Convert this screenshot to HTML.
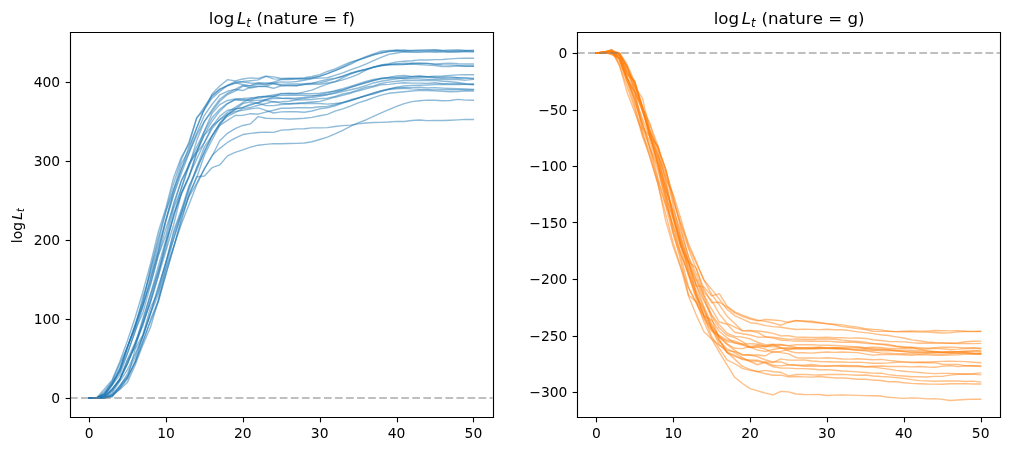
<!DOCTYPE html>
<html><head><meta charset="utf-8"><style>html,body{margin:0;padding:0;background:#fff;overflow:hidden}svg{display:block}</style></head>
<body><svg width="1009" height="451" viewBox="0 0 726.48 324.72" version="1.1">
<defs>
<style type="text/css">*{stroke-linejoin: round; stroke-linecap: butt}</style>
</defs>
<g id="figure_1">
<g id="patch_1">
<path d="M 0 324.72
L 726.48 324.72
L 726.48 0
L 0 0
z
" style="fill: #ffffff"/>
</g>
<g id="axes_1">
<g id="patch_2">
<path d="M 50.3136 300.24
L 354.677236 300.24
L 354.677236 23.04
L 50.3136 23.04
z
" style="fill: #ffffff"/>
</g>
<g id="matplotlib.axis_1">
<g id="xtick_1">
<g id="line2d_1">
<g>
<path d="M 0 0
L 0 3.5
" transform="translate(64.4400 300.6000)" style="stroke: #000000; stroke-width: 0.8"/>
</g>
</g>
<g id="text_1">
<text style="font-size: 10px; font-family: 'DejaVu Sans', sans-serif; text-anchor: middle" x="64.148311" y="315.5584" transform="rotate(-0 64.148311 315.5584)">0</text>
</g>
</g>
<g id="xtick_2">
<g id="line2d_2">
<g>
<path d="M 0 0
L 0 3.5
" transform="translate(119.8800 300.6000)" style="stroke: #000000; stroke-width: 0.8"/>
</g>
</g>
<g id="text_2">
<text style="font-size: 10px; font-family: 'DejaVu Sans', sans-serif; text-anchor: middle" x="119.487154" y="315.5584" transform="rotate(-0 119.487154 315.5584)">10</text>
</g>
</g>
<g id="xtick_3">
<g id="line2d_3">
<g>
<path d="M 0 0
L 0 3.5
" transform="translate(175.3200 300.6000)" style="stroke: #000000; stroke-width: 0.8"/>
</g>
</g>
<g id="text_3">
<text style="font-size: 10px; font-family: 'DejaVu Sans', sans-serif; text-anchor: middle" x="174.825997" y="315.5584" transform="rotate(-0 174.825997 315.5584)">20</text>
</g>
</g>
<g id="xtick_4">
<g id="line2d_4">
<g>
<path d="M 0 0
L 0 3.5
" transform="translate(230.7600 300.6000)" style="stroke: #000000; stroke-width: 0.8"/>
</g>
</g>
<g id="text_4">
<text style="font-size: 10px; font-family: 'DejaVu Sans', sans-serif; text-anchor: middle" x="230.16484" y="315.5584" transform="rotate(-0 230.16484 315.5584)">30</text>
</g>
</g>
<g id="xtick_5">
<g id="line2d_5">
<g>
<path d="M 0 0
L 0 3.5
" transform="translate(286.2000 300.6000)" style="stroke: #000000; stroke-width: 0.8"/>
</g>
</g>
<g id="text_5">
<text style="font-size: 10px; font-family: 'DejaVu Sans', sans-serif; text-anchor: middle" x="285.503683" y="315.5584" transform="rotate(-0 285.503683 315.5584)">40</text>
</g>
</g>
<g id="xtick_6">
<g id="line2d_6">
<g>
<path d="M 0 0
L 0 3.5
" transform="translate(340.9200 300.6000)" style="stroke: #000000; stroke-width: 0.8"/>
</g>
</g>
<g id="text_6">
<text style="font-size: 10px; font-family: 'DejaVu Sans', sans-serif; text-anchor: middle" x="340.842526" y="315.5584" transform="rotate(-0 340.842526 315.5584)">50</text>
</g>
</g>
</g>
<g id="matplotlib.axis_2">
<g id="ytick_1">
<g id="line2d_7">
<g>
<path d="M 0 0
L -3.5 0
" transform="translate(50.7600 286.9200)" style="stroke: #000000; stroke-width: 0.8"/>
</g>
</g>
<g id="text_7">
<text style="font-size: 10px; font-family: 'DejaVu Sans', sans-serif; text-anchor: end" x="43.3136" y="290.3592" transform="rotate(-0 43.3136 290.3592)">0</text>
</g>
</g>
<g id="ytick_2">
<g id="line2d_8">
<g>
<path d="M 0 0
L -3.5 0
" transform="translate(50.7600 230.0400)" style="stroke: #000000; stroke-width: 0.8"/>
</g>
</g>
<g id="text_8">
<text style="font-size: 10px; font-family: 'DejaVu Sans', sans-serif; text-anchor: end" x="43.3136" y="233.4792" transform="rotate(-0 43.3136 233.4792)">100</text>
</g>
</g>
<g id="ytick_3">
<g id="line2d_9">
<g>
<path d="M 0 0
L -3.5 0
" transform="translate(50.7600 173.1600)" style="stroke: #000000; stroke-width: 0.8"/>
</g>
</g>
<g id="text_9">
<text style="font-size: 10px; font-family: 'DejaVu Sans', sans-serif; text-anchor: end" x="43.3136" y="176.5992" transform="rotate(-0 43.3136 176.5992)">200</text>
</g>
</g>
<g id="ytick_4">
<g id="line2d_10">
<g>
<path d="M 0 0
L -3.5 0
" transform="translate(50.7600 116.2800)" style="stroke: #000000; stroke-width: 0.8"/>
</g>
</g>
<g id="text_10">
<text style="font-size: 10px; font-family: 'DejaVu Sans', sans-serif; text-anchor: end" x="43.3136" y="119.7192" transform="rotate(-0 43.3136 119.7192)">300</text>
</g>
</g>
<g id="ytick_5">
<g id="line2d_11">
<g>
<path d="M 0 0
L -3.5 0
" transform="translate(50.7600 59.4000)" style="stroke: #000000; stroke-width: 0.8"/>
</g>
</g>
<g id="text_11">
<text style="font-size: 10px; font-family: 'DejaVu Sans', sans-serif; text-anchor: end" x="43.3136" y="62.8392" transform="rotate(-0 43.3136 62.8392)">400</text>
</g>
</g>
<g id="text_12">
<g transform="translate(16.1101 175.1100) rotate(-90)">
<text>
<tspan x="0" y="-0.40625" style="font-size: 10px; font-family: 'DejaVu Sans', sans-serif">l</tspan>
<tspan x="2.77832" y="-0.40625" style="font-size: 10px; font-family: 'DejaVu Sans', sans-serif">o</tspan>
<tspan x="8.896484" y="-0.40625" style="font-size: 10px; font-family: 'DejaVu Sans', sans-serif">g</tspan>
<tspan x="16.867708" y="-0.40625" style="font-style: oblique; font-size: 10px; font-family: 'DejaVu Sans', sans-serif">L</tspan>
<tspan x="22.438997" y="1.234375" style="font-style: oblique; font-size: 7px; font-family: 'DejaVu Sans', sans-serif">t</tspan>
</text>
</g>
</g>
</g>
<g id="line2d_12">
<path d="M 64.148311 286.56
L 69.682195 286.423488
L 75.216079 280.007424
L 80.749964 273.488976
L 86.283848 260.247312
L 91.817732 245.225304
L 97.351617 228.366072
L 102.885501 210.050712
L 108.419385 189.699048
L 113.953269 167.032368
L 119.487154 149.490576
L 125.021038 127.859112
L 130.554922 113.115816
L 136.088807 103.844376
L 141.622691 84.704256
L 147.156575 78.970752
L 152.69046 67.719888
L 158.224344 61.906752
L 163.758228 57.367728
L 169.292112 58.198176
L 174.825997 56.85012
L 180.359881 56.076552
L 185.893765 56.45196
L 191.42765 54.808128
L 196.961534 55.325736
L 202.495418 56.469024
L 208.029302 56.30976
L 213.563187 56.213064
L 219.097071 55.962792
L 224.630955 55.08684
L 230.16484 53.75016
L 235.698724 51.463584
L 241.232608 49.660488
L 246.766493 47.140704
L 252.300377 44.689176
L 257.834261 43.068096
L 263.368145 41.43564
L 268.90203 39.279888
L 274.435914 38.147976
L 279.969798 37.02744
L 285.503683 36.196992
L 291.037567 36.009288
L 296.571451 36.481392
L 302.105336 36.276624
L 307.63922 36.25956
L 313.173104 36.214056
L 318.706988 36.526896
L 324.240873 36.680472
L 329.774757 36.390384
L 335.308641 36.45864
L 340.842526 36.11736
" clip-path="url(#p61c356c6a1)" style="fill: none; stroke: #1f77b4; stroke-opacity: 0.5; stroke-linecap: square"/>
</g>
<g id="line2d_13">
<path d="M 64.148311 286.56
L 69.682195 286.764768
L 75.216079 282.913992
L 80.749964 275.377392
L 86.283848 264.826152
L 91.817732 249.747264
L 97.351617 235.123416
L 102.885501 213.719472
L 108.419385 197.099136
L 113.953269 177.213888
L 119.487154 157.988448
L 125.021038 136.51056
L 130.554922 122.057352
L 136.088807 105.516648
L 141.622691 92.155536
L 147.156575 77.963976
L 152.69046 69.386472
L 158.224344 64.193328
L 163.758228 61.821432
L 169.292112 59.955768
L 174.825997 58.630464
L 180.359881 58.107168
L 185.893765 57.53268
L 191.42765 55.035648
L 196.961534 56.776176
L 202.495418 57.003696
L 208.029302 56.730672
L 213.563187 56.59416
L 219.097071 56.759112
L 224.630955 56.497464
L 230.16484 56.269944
L 235.698724 56.002608
L 241.232608 54.227952
L 246.766493 52.464672
L 252.300377 50.269104
L 257.834261 48.34656
L 263.368145 46.122552
L 268.90203 43.6824
L 274.435914 41.367384
L 279.969798 39.114936
L 285.503683 38.182104
L 291.037567 37.22652
L 296.571451 37.584864
L 302.105336 37.732752
L 307.63922 37.345968
L 313.173104 37.607616
L 318.706988 37.516608
L 324.240873 37.39716
L 329.774757 37.351656
L 335.308641 36.697536
L 340.842526 36.8568
" clip-path="url(#p61c356c6a1)" style="fill: none; stroke: #1f77b4; stroke-opacity: 0.5; stroke-linecap: square"/>
</g>
<g id="line2d_14">
<path d="M 64.148311 286.56
L 69.682195 286.707888
L 75.216079 281.713824
L 80.749964 274.381992
L 86.283848 261.908208
L 91.817732 249.337728
L 97.351617 234.668376
L 102.885501 217.1664
L 108.419385 193.322304
L 113.953269 171.144792
L 119.487154 151.7544
L 125.021038 132.005664
L 130.554922 114.970104
L 136.088807 102.09816
L 141.622691 85.09104
L 147.156575 76.883256
L 152.69046 68.5674
L 158.224344 64.381032
L 163.758228 61.440336
L 169.292112 58.778352
L 174.825997 59.06844
L 180.359881 59.728248
L 185.893765 59.995584
L 191.42765 60.911352
L 196.961534 59.136696
L 202.495418 57.259656
L 208.029302 57.259656
L 213.563187 56.724984
L 219.097071 56.673792
L 224.630955 55.928664
L 230.16484 55.052712
L 235.698724 53.016408
L 241.232608 50.911848
L 246.766493 48.60252
L 252.300377 46.293192
L 257.834261 43.48332
L 263.368145 41.316192
L 268.90203 39.58704
L 274.435914 37.943208
L 279.969798 37.107072
L 285.503683 36.680472
L 291.037567 37.11276
L 296.571451 37.044504
L 302.105336 37.078632
L 307.63922 36.993312
L 313.173104 36.902304
L 318.706988 36.879552
L 324.240873 37.34028
L 329.774757 37.19808
L 335.308641 37.300464
L 340.842526 37.53936
" clip-path="url(#p61c356c6a1)" style="fill: none; stroke: #1f77b4; stroke-opacity: 0.5; stroke-linecap: square"/>
</g>
<g id="line2d_15">
<path d="M 64.148311 286.56
L 69.682195 286.139088
L 75.216079 283.767192
L 80.749964 275.593536
L 86.283848 266.697504
L 91.817732 250.12836
L 97.351617 233.06436
L 102.885501 217.143648
L 108.419385 193.896792
L 113.953269 174.187872
L 119.487154 152.146872
L 125.021038 136.504872
L 130.554922 118.030248
L 136.088807 107.84304
L 141.622691 91.97352
L 147.156575 78.69204
L 152.69046 70.666272
L 158.224344 65.78028
L 163.758228 61.576848
L 169.292112 59.603112
L 174.825997 60.826032
L 180.359881 61.918128
L 185.893765 60.706584
L 191.42765 60.342552
L 196.961534 59.728248
L 202.495418 58.960368
L 208.029302 59.12532
L 213.563187 58.710096
L 219.097071 57.811392
L 224.630955 56.486088
L 230.16484 54.785376
L 235.698724 52.976592
L 241.232608 50.87772
L 246.766493 48.278304
L 252.300377 45.468432
L 257.834261 43.119288
L 263.368145 40.8384
L 268.90203 38.767968
L 274.435914 36.862488
L 279.969798 36.322128
L 285.503683 36.185616
L 291.037567 36.595152
L 296.571451 36.293688
L 302.105336 36.123048
L 307.63922 35.941032
L 313.173104 35.855712
L 318.706988 36.299376
L 324.240873 36.014976
L 329.774757 35.88984
L 335.308641 36.288
L 340.842526 36.5724
" clip-path="url(#p61c356c6a1)" style="fill: none; stroke: #1f77b4; stroke-opacity: 0.5; stroke-linecap: square"/>
</g>
<g id="line2d_16">
<path d="M 64.148311 286.56
L 69.682195 286.61688
L 75.216079 283.892328
L 80.749964 277.28856
L 86.283848 265.582656
L 91.817732 250.04304
L 97.351617 234.435168
L 102.885501 220.09572
L 108.419385 200.18772
L 113.953269 180.882648
L 119.487154 158.557248
L 125.021038 139.383
L 130.554922 121.858272
L 136.088807 109.822464
L 141.622691 95.909616
L 147.156575 83.031984
L 152.69046 75.05172
L 158.224344 68.374008
L 163.758228 65.700648
L 169.292112 64.363968
L 174.825997 61.4574
L 180.359881 63.36288
L 185.893765 62.36748
L 191.42765 62.3106
L 196.961534 63.567648
L 202.495418 61.764552
L 208.029302 61.525656
L 213.563187 61.51428
L 219.097071 60.951168
L 224.630955 60.638328
L 230.16484 60.621264
L 235.698724 59.72256
L 241.232608 58.84092
L 246.766493 57.487176
L 252.300377 55.718208
L 257.834261 53.52264
L 263.368145 50.502312
L 268.90203 48.352248
L 274.435914 46.788048
L 279.969798 45.889344
L 285.503683 44.569728
L 291.037567 44.05212
L 296.571451 43.76772
L 302.105336 43.1136
L 307.63922 43.159104
L 313.173104 42.920208
L 318.706988 42.85764
L 324.240873 42.362784
L 329.774757 42.038568
L 335.308641 41.811048
L 340.842526 41.91912
" clip-path="url(#p61c356c6a1)" style="fill: none; stroke: #1f77b4; stroke-opacity: 0.5; stroke-linecap: square"/>
</g>
<g id="line2d_17">
<path d="M 64.148311 286.56
L 69.682195 286.56
L 75.216079 283.477104
L 80.749964 276.332976
L 86.283848 267.158232
L 91.817732 253.9962
L 97.351617 238.621536
L 102.885501 220.926168
L 108.419385 201.177432
L 113.953269 181.184112
L 119.487154 158.739264
L 125.021038 140.497848
L 130.554922 124.861536
L 136.088807 110.271816
L 141.622691 97.280424
L 147.156575 87.343488
L 152.69046 78.965064
L 158.224344 71.485344
L 163.758228 67.196592
L 169.292112 64.41516
L 174.825997 65.188728
L 180.359881 62.691696
L 185.893765 62.117208
L 191.42765 62.08308
L 196.961534 60.274296
L 202.495418 60.740712
L 208.029302 60.524568
L 213.563187 60.524568
L 219.097071 60.336864
L 224.630955 59.938704
L 230.16484 59.546232
L 235.698724 58.289184
L 241.232608 56.59416
L 246.766493 54.876384
L 252.300377 52.760448
L 257.834261 51.065424
L 263.368145 49.819752
L 268.90203 48.557016
L 274.435914 47.368224
L 279.969798 46.600344
L 285.503683 45.826776
L 291.037567 45.542376
L 296.571451 45.752832
L 302.105336 45.36036
L 307.63922 45.593568
L 313.173104 46.190808
L 318.706988 45.724392
L 324.240873 45.542376
L 329.774757 45.946224
L 335.308641 46.12824
L 340.842526 46.12824
" clip-path="url(#p61c356c6a1)" style="fill: none; stroke: #1f77b4; stroke-opacity: 0.5; stroke-linecap: square"/>
</g>
<g id="line2d_18">
<path d="M 64.148311 286.56
L 69.682195 286.753392
L 75.216079 284.557824
L 80.749964 277.294248
L 86.283848 269.86572
L 91.817732 254.263536
L 97.351617 237.950352
L 102.885501 225.163728
L 108.419385 205.085088
L 113.953269 183.584448
L 119.487154 164.4102
L 125.021038 148.28472
L 130.554922 130.100184
L 136.088807 119.782152
L 141.622691 101.21652
L 147.156575 87.406056
L 152.69046 80.193672
L 158.224344 72.91872
L 163.758228 68.032728
L 169.292112 65.649456
L 174.825997 62.11152
L 180.359881 61.508592
L 185.893765 59.4666
L 191.42765 59.671368
L 196.961534 60.097968
L 202.495418 61.57116
L 208.029302 61.679232
L 213.563187 61.747488
L 219.097071 60.649704
L 224.630955 60.012648
L 230.16484 58.380192
L 235.698724 57.236904
L 241.232608 56.258568
L 246.766493 54.882072
L 252.300377 52.834392
L 257.834261 51.47496
L 263.368145 49.950576
L 268.90203 48.130416
L 274.435914 47.197584
L 279.969798 46.560528
L 285.503683 46.69704
L 291.037567 46.503648
L 296.571451 45.531
L 302.105336 45.821088
L 307.63922 45.656136
L 313.173104 46.264752
L 318.706988 46.731168
L 324.240873 46.930248
L 329.774757 47.163456
L 335.308641 47.698128
L 340.842526 47.55024
" clip-path="url(#p61c356c6a1)" style="fill: none; stroke: #1f77b4; stroke-opacity: 0.5; stroke-linecap: square"/>
</g>
<g id="line2d_19">
<path d="M 64.148311 286.56
L 69.682195 286.594128
L 75.216079 284.415624
L 80.749964 276.83352
L 86.283848 267.715656
L 91.817732 249.525432
L 97.351617 235.726344
L 102.885501 219.504168
L 108.419385 203.99868
L 113.953269 184.09068
L 119.487154 169.18812
L 125.021038 146.117592
L 130.554922 130.265136
L 136.088807 118.348776
L 141.622691 105.692976
L 147.156575 94.78908
L 152.69046 84.812328
L 158.224344 78.680664
L 163.758228 74.380536
L 169.292112 71.684424
L 174.825997 71.559288
L 180.359881 72.116712
L 185.893765 69.8472
L 191.42765 69.232896
L 196.961534 68.265936
L 202.495418 67.62888
L 208.029302 67.099896
L 213.563187 67.395672
L 219.097071 66.201192
L 224.630955 64.89864
L 230.16484 62.572248
L 235.698724 60.581448
L 241.232608 58.81248
L 246.766493 56.059488
L 252.300377 53.32356
L 257.834261 51.435144
L 263.368145 50.234976
L 268.90203 48.562704
L 274.435914 47.032632
L 279.969798 46.378512
L 285.503683 46.304568
L 291.037567 46.32732
L 296.571451 46.173744
L 302.105336 46.509336
L 307.63922 46.890432
L 313.173104 47.15208
L 318.706988 47.880144
L 324.240873 47.959776
L 329.774757 47.470608
L 335.308641 47.510424
L 340.842526 47.664
" clip-path="url(#p61c356c6a1)" style="fill: none; stroke: #1f77b4; stroke-opacity: 0.5; stroke-linecap: square"/>
</g>
<g id="line2d_20">
<path d="M 64.148311 286.56
L 69.682195 286.400736
L 75.216079 285.149376
L 80.749964 280.269072
L 86.283848 273.045312
L 91.817732 259.433928
L 97.351617 250.088544
L 102.885501 232.06896
L 108.419385 217.075392
L 113.953269 198.703152
L 119.487154 180.598248
L 125.021038 161.839224
L 130.554922 139.12704
L 136.088807 126.744264
L 141.622691 114.566256
L 147.156575 102.61008
L 152.69046 92.616264
L 158.224344 85.85892
L 163.758228 80.984304
L 169.292112 77.349672
L 174.825997 73.840176
L 180.359881 70.836912
L 185.893765 69.756192
L 191.42765 69.50592
L 196.961534 69.665184
L 202.495418 67.219344
L 208.029302 67.480992
L 213.563187 67.304664
L 219.097071 67.480992
L 224.630955 67.384296
L 230.16484 67.122648
L 235.698724 66.303576
L 241.232608 65.689272
L 246.766493 64.654056
L 252.300377 62.896464
L 257.834261 61.292448
L 263.368145 59.688432
L 268.90203 58.107168
L 274.435914 56.241504
L 279.969798 55.706832
L 285.503683 54.671616
L 291.037567 54.364464
L 296.571451 54.961704
L 302.105336 54.563544
L 307.63922 55.234728
L 313.173104 54.842256
L 318.706988 54.711432
L 324.240873 54.284832
L 329.774757 53.909424
L 335.308641 53.869608
L 340.842526 53.80704
" clip-path="url(#p61c356c6a1)" style="fill: none; stroke: #1f77b4; stroke-opacity: 0.5; stroke-linecap: square"/>
</g>
<g id="line2d_21">
<path d="M 64.148311 286.56
L 69.682195 286.50312
L 75.216079 285.268824
L 80.749964 280.354392
L 86.283848 273.42072
L 91.817732 261.777384
L 97.351617 248.25132
L 102.885501 229.287528
L 108.419385 211.558032
L 113.953269 191.615904
L 119.487154 172.74312
L 125.021038 149.917176
L 130.554922 136.214784
L 136.088807 119.298672
L 141.622691 108.940824
L 147.156575 94.197528
L 152.69046 81.632736
L 158.224344 75.324744
L 163.758228 72.332856
L 169.292112 71.18388
L 174.825997 70.893792
L 180.359881 70.455816
L 185.893765 70.780032
L 191.42765 69.625368
L 196.961534 69.113448
L 202.495418 68.698224
L 208.029302 68.573088
L 213.563187 68.48208
L 219.097071 68.732352
L 224.630955 68.68116
L 230.16484 68.669784
L 235.698724 68.05548
L 241.232608 67.236408
L 246.766493 65.905416
L 252.300377 64.631304
L 257.834261 63.351504
L 263.368145 61.701984
L 268.90203 59.72256
L 274.435914 58.52808
L 279.969798 57.606624
L 285.503683 56.79324
L 291.037567 56.116368
L 296.571451 55.553256
L 302.105336 55.411056
L 307.63922 55.467936
L 313.173104 55.502064
L 318.706988 55.45656
L 324.240873 55.445184
L 329.774757 56.008296
L 335.308641 56.059488
L 340.842526 56.25288
" clip-path="url(#p61c356c6a1)" style="fill: none; stroke: #1f77b4; stroke-opacity: 0.5; stroke-linecap: square"/>
</g>
<g id="line2d_22">
<path d="M 64.148311 286.56
L 69.682195 286.798896
L 75.216079 285.718176
L 80.749964 281.4408
L 86.283848 272.59596
L 91.817732 261.896832
L 97.351617 247.972608
L 102.885501 234.474984
L 108.419385 215.067528
L 113.953269 195.222096
L 119.487154 174.56328
L 125.021038 156.014712
L 130.554922 135.099936
L 136.088807 118.041624
L 141.622691 108.929448
L 147.156575 96.831072
L 152.69046 87.28092
L 158.224344 80.011656
L 163.758228 74.727504
L 169.292112 71.786808
L 174.825997 72.361296
L 180.359881 72.128088
L 185.893765 72.281664
L 191.42765 71.860752
L 196.961534 69.778944
L 202.495418 70.7004
L 208.029302 70.89948
L 213.563187 71.456904
L 219.097071 70.87104
L 224.630955 70.307928
L 230.16484 69.318216
L 235.698724 68.180616
L 241.232608 66.593664
L 246.766493 64.84176
L 252.300377 62.947656
L 257.834261 61.08768
L 263.368145 59.426784
L 268.90203 57.982032
L 274.435914 56.838744
L 279.969798 55.775088
L 285.503683 55.758024
L 291.037567 55.479312
L 296.571451 55.155096
L 302.105336 55.251792
L 307.63922 55.297296
L 313.173104 55.780776
L 318.706988 56.355264
L 324.240873 56.275632
L 329.774757 56.002608
L 335.308641 56.269944
L 340.842526 56.7648
" clip-path="url(#p61c356c6a1)" style="fill: none; stroke: #1f77b4; stroke-opacity: 0.5; stroke-linecap: square"/>
</g>
<g id="line2d_23">
<path d="M 64.148311 286.56
L 69.682195 286.651008
L 75.216079 285.79212
L 80.749964 281.258784
L 86.283848 273.670992
L 91.817732 258.540912
L 97.351617 246.692808
L 102.885501 233.468208
L 108.419385 217.689696
L 113.953269 198.788472
L 119.487154 174.53484
L 125.021038 155.93508
L 130.554922 139.229424
L 136.088807 126.92628
L 141.622691 109.839528
L 147.156575 97.143912
L 152.69046 91.09188
L 158.224344 83.600784
L 163.758228 79.420104
L 169.292112 78.43608
L 174.825997 77.49756
L 180.359881 75.671712
L 185.893765 73.663848
L 191.42765 71.508096
L 196.961534 70.973424
L 202.495418 70.848288
L 208.029302 70.677648
L 213.563187 70.575264
L 219.097071 70.239672
L 224.630955 69.471792
L 230.16484 68.106672
L 235.698724 66.91788
L 241.232608 65.228544
L 246.766493 63.857736
L 252.300377 62.248032
L 257.834261 60.496128
L 263.368145 58.630464
L 268.90203 57.236904
L 274.435914 56.554344
L 279.969798 56.3382
L 285.503683 56.059488
L 291.037567 56.673792
L 296.571451 56.616912
L 302.105336 56.787552
L 307.63922 57.168648
L 313.173104 57.0492
L 318.706988 57.265344
L 324.240873 57.1914
L 329.774757 57.282408
L 335.308641 57.73176
L 340.842526 57.21984
" clip-path="url(#p61c356c6a1)" style="fill: none; stroke: #1f77b4; stroke-opacity: 0.5; stroke-linecap: square"/>
</g>
<g id="line2d_24">
<path d="M 64.148311 286.56
L 69.682195 286.662384
L 75.216079 285.50772
L 80.749964 279.973296
L 86.283848 273.02256
L 91.817732 261.527112
L 97.351617 247.073904
L 102.885501 231.295392
L 108.419385 212.052888
L 113.953269 195.654384
L 119.487154 178.561944
L 125.021038 153.699696
L 130.554922 139.9518
L 136.088807 127.762416
L 141.622691 110.294568
L 147.156575 102.706776
L 152.69046 90.77904
L 158.224344 86.365152
L 163.758228 82.707768
L 169.292112 78.714792
L 174.825997 74.642184
L 180.359881 73.28844
L 185.893765 74.175768
L 191.42765 72.162216
L 196.961534 73.396512
L 202.495418 73.208808
L 208.029302 72.89028
L 213.563187 71.968824
L 219.097071 71.860752
L 224.630955 71.627544
L 230.16484 70.979112
L 235.698724 70.7004
L 241.232608 69.44904
L 246.766493 67.68576
L 252.300377 66.485592
L 257.834261 64.75644
L 263.368145 62.805456
L 268.90203 61.815744
L 274.435914 60.126408
L 279.969798 59.131008
L 285.503683 58.454136
L 291.037567 57.919464
L 296.571451 58.050288
L 302.105336 57.964968
L 307.63922 57.953592
L 313.173104 57.9024
L 318.706988 58.522392
L 324.240873 58.835232
L 329.774757 59.38128
L 335.308641 60.1776
L 340.842526 60.462
" clip-path="url(#p61c356c6a1)" style="fill: none; stroke: #1f77b4; stroke-opacity: 0.5; stroke-linecap: square"/>
</g>
<g id="line2d_25">
<path d="M 64.148311 286.56
L 69.682195 286.434864
L 75.216079 286.355232
L 80.749964 283.926456
L 86.283848 278.22708
L 91.817732 268.95564
L 97.351617 256.885704
L 102.885501 241.755624
L 108.419385 225.408312
L 113.953269 206.234064
L 119.487154 188.931168
L 125.021038 168.238224
L 130.554922 152.698608
L 136.088807 137.147616
L 141.622691 120.58416
L 147.156575 105.6816
L 152.69046 97.60464
L 158.224344 88.947504
L 163.758228 83.731608
L 169.292112 81.058248
L 174.825997 78.219936
L 180.359881 77.332608
L 185.893765 75.774096
L 191.42765 74.545488
L 196.961534 73.163304
L 202.495418 74.221272
L 208.029302 74.65356
L 213.563187 74.34072
L 219.097071 74.499984
L 224.630955 74.386224
L 230.16484 74.5398
L 235.698724 75.000528
L 241.232608 74.551176
L 246.766493 73.891368
L 252.300377 72.549
L 257.834261 70.575264
L 263.368145 68.891616
L 268.90203 67.810896
L 274.435914 65.996424
L 279.969798 64.164888
L 285.503683 62.748576
L 291.037567 61.918128
L 296.571451 61.451712
L 302.105336 61.406208
L 307.63922 61.28676
L 313.173104 60.86016
L 318.706988 60.655392
L 324.240873 60.899976
L 329.774757 60.808968
L 335.308641 60.649704
L 340.842526 60.7464
" clip-path="url(#p61c356c6a1)" style="fill: none; stroke: #1f77b4; stroke-opacity: 0.5; stroke-linecap: square"/>
</g>
<g id="line2d_26">
<path d="M 64.148311 286.56
L 69.682195 286.440552
L 75.216079 286.241472
L 80.749964 282.8628
L 86.283848 274.655016
L 91.817732 266.14008
L 97.351617 254.661696
L 102.885501 242.07984
L 108.419385 225.379872
L 113.953269 207.900648
L 119.487154 188.487504
L 125.021038 171.764784
L 130.554922 153.676944
L 136.088807 134.650584
L 141.622691 120.897
L 147.156575 109.9476
L 152.69046 97.843536
L 158.224344 88.714296
L 163.758228 82.286856
L 169.292112 78.532776
L 174.825997 77.389488
L 180.359881 74.915208
L 185.893765 74.266776
L 191.42765 76.058496
L 196.961534 76.01868
L 202.495418 75.216672
L 208.029302 74.846952
L 213.563187 74.505672
L 219.097071 73.971
L 224.630955 73.476144
L 230.16484 73.021104
L 235.698724 71.530848
L 241.232608 69.983712
L 246.766493 68.7096
L 252.300377 67.168152
L 257.834261 65.490192
L 263.368145 63.965808
L 268.90203 62.486928
L 274.435914 61.05924
L 279.969798 60.757776
L 285.503683 60.00696
L 291.037567 59.625864
L 296.571451 59.887512
L 302.105336 59.881824
L 307.63922 60.097968
L 313.173104 59.58036
L 318.706988 60.29136
L 324.240873 60.200352
L 329.774757 60.3198
L 335.308641 60.71796
L 340.842526 60.97392
" clip-path="url(#p61c356c6a1)" style="fill: none; stroke: #1f77b4; stroke-opacity: 0.5; stroke-linecap: square"/>
</g>
<g id="line2d_27">
<path d="M 64.148311 286.56
L 69.682195 286.56
L 75.216079 286.463304
L 80.749964 285.302952
L 86.283848 277.561584
L 91.817732 270.918
L 97.351617 261.168768
L 102.885501 246.334464
L 108.419385 229.930272
L 113.953269 216.495216
L 119.487154 193.663584
L 125.021038 177.714432
L 130.554922 159.512832
L 136.088807 139.860792
L 141.622691 127.75104
L 147.156575 111.756384
L 152.69046 100.824048
L 158.224344 90.284184
L 163.758228 86.65524
L 169.292112 83.168496
L 174.825997 83.105928
L 180.359881 81.860256
L 185.893765 82.224288
L 191.42765 80.671464
L 196.961534 79.385976
L 202.495418 77.907096
L 208.029302 77.89572
L 213.563187 77.531688
L 219.097071 77.480496
L 224.630955 77.58288
L 230.16484 76.883256
L 235.698724 76.61592
L 241.232608 75.42144
L 246.766493 73.709352
L 252.300377 71.855064
L 257.834261 70.512696
L 263.368145 69.011064
L 268.90203 67.105584
L 274.435914 65.359368
L 279.969798 64.062504
L 285.503683 63.209304
L 291.037567 63.07848
L 296.571451 62.873712
L 302.105336 62.805456
L 307.63922 63.254808
L 313.173104 63.209304
L 318.706988 63.442512
L 324.240873 63.698472
L 329.774757 63.93168
L 335.308641 64.07388
L 340.842526 64.32984
" clip-path="url(#p61c356c6a1)" style="fill: none; stroke: #1f77b4; stroke-opacity: 0.5; stroke-linecap: square"/>
</g>
<g id="line2d_28">
<path d="M 64.148311 286.56
L 69.682195 286.525872
L 75.216079 286.400736
L 80.749964 284.188104
L 86.283848 279.882288
L 91.817732 271.879272
L 97.351617 251.23752
L 102.885501 241.056
L 108.419385 221.182128
L 113.953269 210.391992
L 119.487154 189.147312
L 125.021038 166.366872
L 130.554922 150.906888
L 136.088807 133.911144
L 141.622691 122.842296
L 147.156575 108.457344
L 152.69046 97.968672
L 158.224344 89.971344
L 163.758228 82.565568
L 169.292112 80.187984
L 174.825997 79.499736
L 180.359881 78.32232
L 185.893765 77.673888
L 191.42765 79.454232
L 196.961534 81.376776
L 202.495418 80.586144
L 208.029302 80.358624
L 213.563187 80.500824
L 219.097071 80.779536
L 224.630955 79.949088
L 230.16484 78.339384
L 235.698724 77.617008
L 241.232608 76.149504
L 246.766493 74.17008
L 252.300377 72.412488
L 257.834261 70.72884
L 263.368145 68.772168
L 268.90203 66.963384
L 274.435914 65.444688
L 279.969798 64.420848
L 285.503683 63.90324
L 291.037567 63.584712
L 296.571451 63.999936
L 302.105336 64.250208
L 307.63922 64.369656
L 313.173104 64.722312
L 318.706988 64.61424
L 324.240873 64.540296
L 329.774757 64.636992
L 335.308641 64.779192
L 340.842526 64.728
" clip-path="url(#p61c356c6a1)" style="fill: none; stroke: #1f77b4; stroke-opacity: 0.5; stroke-linecap: square"/>
</g>
<g id="line2d_29">
<path d="M 64.148311 286.56
L 69.682195 286.47468
L 75.216079 286.491744
L 80.749964 284.921856
L 86.283848 280.456776
L 91.817732 275.246568
L 97.351617 262.863792
L 102.885501 248.296824
L 108.419385 235.487448
L 113.953269 216.358704
L 119.487154 197.05932
L 125.021038 178.362864
L 130.554922 157.055616
L 136.088807 141.516
L 141.622691 131.8464
L 147.156575 121.608
L 152.69046 112.5072
L 158.224344 101.30184
L 163.758228 96.012
L 169.292112 92.5992
L 174.825997 90.324
L 180.359881 89.1864
L 185.893765 83.936376
L 191.42765 85.113792
L 196.961534 85.438008
L 202.495418 85.43232
L 208.029302 85.682592
L 213.563187 85.483512
L 219.097071 85.182048
L 224.630955 84.471048
L 230.16484 83.305008
L 235.698724 82.30392
L 241.232608 80.005968
L 246.766493 78.3792
L 252.300377 76.3884
L 257.834261 74.05632
L 263.368145 72.361296
L 268.90203 70.336368
L 274.435914 68.48208
L 279.969798 67.179528
L 285.503683 66.553848
L 291.037567 66.076056
L 296.571451 65.530008
L 302.105336 65.086344
L 307.63922 65.1546
L 313.173104 65.399184
L 318.706988 65.763216
L 324.240873 66.070368
L 329.774757 66.002112
L 335.308641 65.427624
L 340.842526 65.46744
" clip-path="url(#p61c356c6a1)" style="fill: none; stroke: #1f77b4; stroke-opacity: 0.5; stroke-linecap: square"/>
</g>
<g id="line2d_30">
<path d="M 64.148311 286.56
L 69.682195 286.315416
L 75.216079 286.548624
L 80.749964 285.644232
L 86.283848 279.472752
L 91.817732 272.971368
L 97.351617 260.50896
L 102.885501 245.759976
L 108.419385 231.426216
L 113.953269 217.661256
L 119.487154 197.497296
L 125.021038 177.74856
L 130.554922 161.424
L 136.088807 147.204
L 141.622691 132.984
L 147.156575 121.608
L 152.69046 111.9384
L 158.224344 106.8192
L 163.758228 102.5532
L 169.292112 99.4248
L 174.825997 96.8652
L 180.359881 96.012
L 185.893765 95.4432
L 191.42765 95.10192
L 196.961534 95.323752
L 202.495418 93.714048
L 208.029302 93.412584
L 213.563187 92.79828
L 219.097071 92.730024
L 224.630955 92.08728
L 230.16484 92.08728
L 235.698724 91.854072
L 241.232608 91.080504
L 246.766493 90.420696
L 252.300377 90.107856
L 257.834261 89.203464
L 263.368145 88.594848
L 268.90203 88.208064
L 274.435914 88.128432
L 279.969798 87.861096
L 285.503683 87.360552
L 291.037567 87.491376
L 296.571451 86.803128
L 302.105336 86.365152
L 307.63922 86.848632
L 313.173104 86.751936
L 318.706988 86.780376
L 324.240873 86.592672
L 329.774757 86.28552
L 335.308641 85.910112
L 340.842526 86.058
" clip-path="url(#p61c356c6a1)" style="fill: none; stroke: #1f77b4; stroke-opacity: 0.5; stroke-linecap: square"/>
</g>
<g id="line2d_31">
<path d="M 64.148311 286.56
L 69.682195 286.798896
L 75.216079 286.56
L 80.749964 284.660208
L 86.283848 278.352216
L 91.817732 271.42992
L 97.351617 260.088048
L 102.885501 242.3358
L 108.419385 225.789408
L 113.953269 212.223528
L 119.487154 192.525984
L 125.021038 171.963864
L 130.554922 154.5984
L 136.088807 140.9472
L 141.622691 127.296
L 147.156575 126.7272
L 152.69046 120.7548
L 158.224344 118.764
L 163.758228 112.2228
L 169.292112 109.6632
L 174.825997 107.9568
L 180.359881 105.966
L 185.893765 104.544
L 191.42765 103.9752
L 196.961534 103.4064
L 202.495418 103.457592
L 208.029302 103.343832
L 213.563187 103.20732
L 219.097071 102.95136
L 224.630955 102.04128
L 230.16484 100.414512
L 235.698724 98.696736
L 241.232608 96.455664
L 246.766493 93.799368
L 252.300377 91.017936
L 257.834261 88.520904
L 263.368145 86.387904
L 268.90203 83.856744
L 274.435914 81.319896
L 279.969798 78.959376
L 285.503683 76.610232
L 291.037567 74.65356
L 296.571451 73.168992
L 302.105336 72.526248
L 307.63922 72.116712
L 313.173104 72.20772
L 318.706988 72.509184
L 324.240873 72.395424
L 329.774757 71.5536
L 335.308641 72.059832
L 340.842526 72.17928
" clip-path="url(#p61c356c6a1)" style="fill: none; stroke: #1f77b4; stroke-opacity: 0.5; stroke-linecap: square"/>
</g>
<g id="line2d_32">
<path d="M 50.4000 286.5600
L 354.9600 286.5600
" clip-path="url(#p61c356c6a1)" style="fill: none; stroke-dasharray: 5.55,2.4; stroke-dashoffset: 0; stroke: #808080; stroke-opacity: 0.5; stroke-width: 1.5"/>
</g>
<g id="patch_3">
<path d="M 50.7600 300.6000
L 50.7600 23.4000
" style="fill: none; stroke: #000000; stroke-width: 0.8; stroke-linejoin: miter; stroke-linecap: square"/>
</g>
<g id="patch_4">
<path d="M 355.3200 300.6000
L 355.3200 23.4000
" style="fill: none; stroke: #000000; stroke-width: 0.8; stroke-linejoin: miter; stroke-linecap: square"/>
</g>
<g id="patch_5">
<path d="M 50.7600 300.6000
L 355.3200 300.6000
" style="fill: none; stroke: #000000; stroke-width: 0.8; stroke-linejoin: miter; stroke-linecap: square"/>
</g>
<g id="patch_6">
<path d="M 50.7600 23.4000
L 355.3200 23.4000
" style="fill: none; stroke: #000000; stroke-width: 0.8; stroke-linejoin: miter; stroke-linecap: square"/>
</g>
<g id="text_13">
<g transform="translate(150.3794 18.1200)">
<text>
<tspan x="0" y="-0.875" style="font-size: 12px; font-family: 'DejaVu Sans', sans-serif">l</tspan>
<tspan x="3.333984" y="-0.875" style="font-size: 12px; font-family: 'DejaVu Sans', sans-serif">o</tspan>
<tspan x="10.675781" y="-0.875" style="font-size: 12px; font-family: 'DejaVu Sans', sans-serif">g</tspan>
<tspan x="30.548476" y="-0.875" style="font-size: 12px; font-family: 'DejaVu Sans', sans-serif"> </tspan>
<tspan x="34.36293" y="-0.875" style="font-size: 12px; font-family: 'DejaVu Sans', sans-serif">(</tspan>
<tspan x="39.04457" y="-0.875" style="font-size: 12px; font-family: 'DejaVu Sans', sans-serif">n</tspan>
<tspan x="46.650039" y="-0.875" style="font-size: 12px; font-family: 'DejaVu Sans', sans-serif">a</tspan>
<tspan x="54.003555" y="-0.875" style="font-size: 12px; font-family: 'DejaVu Sans', sans-serif">t</tspan>
<tspan x="58.708633" y="-0.875" style="font-size: 12px; font-family: 'DejaVu Sans', sans-serif">u</tspan>
<tspan x="66.314101" y="-0.875" style="font-size: 12px; font-family: 'DejaVu Sans', sans-serif">r</tspan>
<tspan x="71.247695" y="-0.875" style="font-size: 12px; font-family: 'DejaVu Sans', sans-serif">e</tspan>
<tspan x="78.630508" y="-0.875" style="font-size: 12px; font-family: 'DejaVu Sans', sans-serif"> </tspan>
<tspan x="82.444961" y="-0.875" style="font-size: 12px; font-family: 'DejaVu Sans', sans-serif">=</tspan>
<tspan x="92.499648" y="-0.875" style="font-size: 12px; font-family: 'DejaVu Sans', sans-serif"> </tspan>
<tspan x="96.314101" y="-0.875" style="font-size: 12px; font-family: 'DejaVu Sans', sans-serif">f</tspan>
<tspan x="100.538711" y="-0.875" style="font-size: 12px; font-family: 'DejaVu Sans', sans-serif">)</tspan>
<tspan x="20.24125" y="-0.875" style="font-style: oblique; font-size: 12px; font-family: 'DejaVu Sans', sans-serif">L</tspan>
<tspan x="26.926797" y="1.09375" style="font-style: oblique; font-size: 8.4px; font-family: 'DejaVu Sans', sans-serif">t</tspan>
</text>
</g>
</g>
</g>
<g id="axes_2">
<g id="patch_7">
<path d="M 415.549964 300.24
L 719.9136 300.24
L 719.9136 23.04
L 415.549964 23.04
z
" style="fill: #ffffff"/>
</g>
<g id="matplotlib.axis_3">
<g id="xtick_7">
<g id="line2d_33">
<g>
<path d="M 0 0
L 0 3.5
" transform="translate(429.4800 300.6000)" style="stroke: #000000; stroke-width: 0.8"/>
</g>
</g>
<g id="text_14">
<text style="font-size: 10px; font-family: 'DejaVu Sans', sans-serif; text-anchor: middle" x="429.384674" y="315.5584" transform="rotate(-0 429.384674 315.5584)">0</text>
</g>
</g>
<g id="xtick_8">
<g id="line2d_34">
<g>
<path d="M 0 0
L 0 3.5
" transform="translate(484.9200 300.6000)" style="stroke: #000000; stroke-width: 0.8"/>
</g>
</g>
<g id="text_15">
<text style="font-size: 10px; font-family: 'DejaVu Sans', sans-serif; text-anchor: middle" x="484.723517" y="315.5584" transform="rotate(-0 484.723517 315.5584)">10</text>
</g>
</g>
<g id="xtick_9">
<g id="line2d_35">
<g>
<path d="M 0 0
L 0 3.5
" transform="translate(540.3600 300.6000)" style="stroke: #000000; stroke-width: 0.8"/>
</g>
</g>
<g id="text_16">
<text style="font-size: 10px; font-family: 'DejaVu Sans', sans-serif; text-anchor: middle" x="540.06236" y="315.5584" transform="rotate(-0 540.06236 315.5584)">20</text>
</g>
</g>
<g id="xtick_10">
<g id="line2d_36">
<g>
<path d="M 0 0
L 0 3.5
" transform="translate(595.8000 300.6000)" style="stroke: #000000; stroke-width: 0.8"/>
</g>
</g>
<g id="text_17">
<text style="font-size: 10px; font-family: 'DejaVu Sans', sans-serif; text-anchor: middle" x="595.401203" y="315.5584" transform="rotate(-0 595.401203 315.5584)">30</text>
</g>
</g>
<g id="xtick_11">
<g id="line2d_37">
<g>
<path d="M 0 0
L 0 3.5
" transform="translate(651.2400 300.6000)" style="stroke: #000000; stroke-width: 0.8"/>
</g>
</g>
<g id="text_18">
<text style="font-size: 10px; font-family: 'DejaVu Sans', sans-serif; text-anchor: middle" x="650.740046" y="315.5584" transform="rotate(-0 650.740046 315.5584)">40</text>
</g>
</g>
<g id="xtick_12">
<g id="line2d_38">
<g>
<path d="M 0 0
L 0 3.5
" transform="translate(706.6800 300.6000)" style="stroke: #000000; stroke-width: 0.8"/>
</g>
</g>
<g id="text_19">
<text style="font-size: 10px; font-family: 'DejaVu Sans', sans-serif; text-anchor: middle" x="706.078889" y="315.5584" transform="rotate(-0 706.078889 315.5584)">50</text>
</g>
</g>
</g>
<g id="matplotlib.axis_4">
<g id="ytick_6">
<g id="line2d_39">
<g>
<path d="M 0 0
L -3.5 0
" transform="translate(415.8000 282.6000)" style="stroke: #000000; stroke-width: 0.8"/>
</g>
</g>
<g id="text_20">
<text style="font-size: 10px; font-family: 'DejaVu Sans', sans-serif; text-anchor: end" x="408.549964" y="286.0392" transform="rotate(-0 408.549964 286.0392)">−300</text>
</g>
</g>
<g id="ytick_7">
<g id="line2d_40">
<g>
<path d="M 0 0
L -3.5 0
" transform="translate(415.8000 242.2800)" style="stroke: #000000; stroke-width: 0.8"/>
</g>
</g>
<g id="text_21">
<text style="font-size: 10px; font-family: 'DejaVu Sans', sans-serif; text-anchor: end" x="408.549964" y="245.3592" transform="rotate(-0 408.549964 245.3592)">−250</text>
</g>
</g>
<g id="ytick_8">
<g id="line2d_41">
<g>
<path d="M 0 0
L -3.5 0
" transform="translate(415.8000 201.2400)" style="stroke: #000000; stroke-width: 0.8"/>
</g>
</g>
<g id="text_22">
<text style="font-size: 10px; font-family: 'DejaVu Sans', sans-serif; text-anchor: end" x="408.549964" y="204.6792" transform="rotate(-0 408.549964 204.6792)">−200</text>
</g>
</g>
<g id="ytick_9">
<g id="line2d_42">
<g>
<path d="M 0 0
L -3.5 0
" transform="translate(415.8000 160.2000)" style="stroke: #000000; stroke-width: 0.8"/>
</g>
</g>
<g id="text_23">
<text style="font-size: 10px; font-family: 'DejaVu Sans', sans-serif; text-anchor: end" x="408.549964" y="163.9992" transform="rotate(-0 408.549964 163.9992)">−150</text>
</g>
</g>
<g id="ytick_10">
<g id="line2d_43">
<g>
<path d="M 0 0
L -3.5 0
" transform="translate(415.8000 119.8800)" style="stroke: #000000; stroke-width: 0.8"/>
</g>
</g>
<g id="text_24">
<text style="font-size: 10px; font-family: 'DejaVu Sans', sans-serif; text-anchor: end" x="408.549964" y="123.3192" transform="rotate(-0 408.549964 123.3192)">−100</text>
</g>
</g>
<g id="ytick_11">
<g id="line2d_44">
<g>
<path d="M 0 0
L -3.5 0
" transform="translate(415.8000 79.5600)" style="stroke: #000000; stroke-width: 0.8"/>
</g>
</g>
<g id="text_25">
<text style="font-size: 10px; font-family: 'DejaVu Sans', sans-serif; text-anchor: end" x="408.549964" y="82.6392" transform="rotate(-0 408.549964 82.6392)">−50</text>
</g>
</g>
<g id="ytick_12">
<g id="line2d_45">
<g>
<path d="M 0 0
L -3.5 0
" transform="translate(415.8000 38.5200)" style="stroke: #000000; stroke-width: 0.8"/>
</g>
</g>
<g id="text_26">
<text style="font-size: 10px; font-family: 'DejaVu Sans', sans-serif; text-anchor: end" x="408.549964" y="41.9592" transform="rotate(-0 408.549964 41.9592)">0</text>
</g>
</g>
</g>
<g id="line2d_46">
<path d="M 429.384674 38.16
L 434.918559 37.639296
L 440.452443 38.737656
L 445.986327 41.829336
L 451.520212 57.068064
L 457.054096 67.107888
L 462.58798 92.687472
L 468.121864 97.829424
L 473.655749 117.8928
L 479.189633 138.696552
L 484.723517 158.53212
L 490.257402 177.358824
L 495.791286 191.88972
L 501.32517 205.851096
L 506.859055 206.5752
L 512.392939 213.084
L 517.926823 211.4568
L 523.460707 220.4064
L 528.994592 224.4744
L 534.528476 226.9152
L 540.06236 228.9492
L 545.596245 230.5764
L 551.130129 231.39
L 556.664013 232.594128
L 562.197898 234.205056
L 567.731782 231.682896
L 573.265666 230.909976
L 578.79955 231.14592
L 584.333435 231.26796
L 589.867319 232.16292
L 595.401203 233.066016
L 600.935088 233.424
L 606.468972 233.904024
L 612.002856 234.823392
L 617.53674 235.555632
L 623.070625 236.694672
L 628.604509 237.117744
L 634.138393 237.540816
L 639.672278 238.46832
L 645.206162 238.785624
L 650.740046 238.476456
L 656.273931 238.3056
L 661.807815 238.435776
L 667.341699 238.541544
L 672.875583 237.963888
L 678.409468 238.094064
L 683.943352 238.240512
L 689.477236 238.037112
L 695.011121 238.460184
L 700.545005 238.59036
L 706.078889 238.476456
" clip-path="url(#p05ef767207)" style="fill: none; stroke: #ff7f0e; stroke-opacity: 0.5; stroke-linecap: square"/>
</g>
<g id="line2d_47">
<path d="M 429.384674 38.16
L 434.918559 37.818288
L 440.452443 38.216952
L 445.986327 41.707296
L 451.520212 53.74044
L 457.054096 58.434912
L 462.58798 79.995312
L 468.121864 94.916736
L 473.655749 111.074832
L 479.189633 136.109304
L 484.723517 152.975232
L 490.257402 170.793072
L 495.791286 188.537688
L 501.32517 193.012488
L 506.859055 208.2024
L 512.392939 217.9656
L 517.926823 217.64016
L 523.460707 221.22
L 528.994592 225.288
L 534.528476 227.7288
L 540.06236 229.7628
L 545.596245 230.9832
L 551.130129 230.015016
L 556.664013 230.429952
L 562.197898 230.869296
L 567.731782 232.301232
L 573.265666 230.625216
L 578.79955 231.463224
L 584.333435 232.024608
L 589.867319 232.594128
L 595.401203 233.009064
L 600.935088 233.887752
L 606.468972 235.13256
L 612.002856 235.82412
L 617.53674 236.613312
L 623.070625 237.231648
L 628.604509 238.484592
L 634.138393 238.622904
L 639.672278 238.598496
L 645.206162 238.761216
L 650.740046 238.972752
L 656.273931 238.777488
L 661.807815 239.143608
L 667.341699 239.1192
L 672.875583 239.387688
L 678.409468 239.802624
L 683.943352 239.631768
L 689.477236 238.972752
L 695.011121 238.663584
L 700.545005 238.744944
L 706.078889 238.687992
" clip-path="url(#p05ef767207)" style="fill: none; stroke: #ff7f0e; stroke-opacity: 0.5; stroke-linecap: square"/>
</g>
<g id="line2d_48">
<path d="M 429.384674 38.16
L 434.918559 37.99728
L 440.452443 37.850832
L 445.986327 39.9906
L 451.520212 51.804072
L 457.054096 65.911896
L 462.58798 79.214256
L 468.121864 99.350856
L 473.655749 112.173192
L 479.189633 127.973304
L 484.723517 139.77864
L 490.257402 157.620888
L 495.791286 177.667992
L 501.32517 189.595368
L 506.859055 201.514608
L 512.392939 208.373256
L 517.926823 215.370216
L 523.460707 222.627528
L 528.994592 227.24064
L 534.528476 229.697712
L 540.06236 232.341912
L 545.596245 232.952112
L 551.130129 234.473544
L 556.664013 235.140696
L 562.197898 235.62072
L 567.731782 236.483136
L 573.265666 237.24792
L 578.79955 236.979432
L 584.333435 237.12588
L 589.867319 237.296736
L 595.401203 237.011976
L 600.935088 237.394368
L 606.468972 237.45132
L 612.002856 238.045248
L 617.53674 238.972752
L 623.070625 239.48532
L 628.604509 240.21756
L 634.138393 241.039296
L 639.672278 241.568136
L 645.206162 242.511912
L 650.740046 243.34992
L 656.273931 244.69236
L 661.807815 245.38392
L 667.341699 246.124296
L 672.875583 246.531096
L 678.409468 246.710088
L 683.943352 247.181976
L 689.477236 246.913488
L 695.011121 246.067344
L 700.545005 245.733768
L 706.078889 245.595456
" clip-path="url(#p05ef767207)" style="fill: none; stroke: #ff7f0e; stroke-opacity: 0.5; stroke-linecap: square"/>
</g>
<g id="line2d_49">
<path d="M 429.384674 38.16
L 434.918559 37.639296
L 440.452443 35.816832
L 445.986327 39.355992
L 451.520212 49.639896
L 457.054096 59.915664
L 462.58798 78.303024
L 468.121864 95.323536
L 473.655749 105.981696
L 479.189633 121.944528
L 484.723517 144.766008
L 490.257402 162.19332
L 495.791286 179.3196
L 501.32517 193.866768
L 506.859055 210.334032
L 512.392939 216.37908
L 517.926823 226.06092
L 523.460707 232.797528
L 528.994592 235.482408
L 534.528476 238.02084
L 540.06236 237.85812
L 545.596245 238.330008
L 551.130129 239.029704
L 556.664013 240.062976
L 562.197898 241.852896
L 567.731782 241.779672
L 573.265666 242.747856
L 578.79955 242.772264
L 584.333435 243.008208
L 589.867319 243.016344
L 595.401203 242.829216
L 600.935088 243.162792
L 606.468972 243.14652
L 612.002856 243.463824
L 617.53674 243.406872
L 623.070625 243.67536
L 628.604509 244.619136
L 634.138393 245.204928
L 639.672278 245.8314
L 645.206162 245.99412
L 650.740046 246.164976
L 656.273931 246.72636
L 661.807815 247.108752
L 667.341699 246.97044
L 672.875583 247.165704
L 678.409468 247.198248
L 683.943352 247.125024
L 689.477236 247.287744
L 695.011121 247.320288
L 700.545005 247.409784
L 706.078889 247.2552
" clip-path="url(#p05ef767207)" style="fill: none; stroke: #ff7f0e; stroke-opacity: 0.5; stroke-linecap: square"/>
</g>
<g id="line2d_50">
<path d="M 429.384674 38.16
L 434.918559 38.094912
L 440.452443 37.484712
L 445.986327 41.593392
L 451.520212 56.010384
L 457.054096 70.638912
L 462.58798 85.576608
L 468.121864 99.716976
L 473.655749 117.477864
L 479.189633 136.385928
L 484.723517 150.737832
L 490.257402 166.757616
L 495.791286 184.656816
L 501.32517 197.479152
L 506.859055 212.376168
L 512.392939 222.635664
L 517.926823 231.83748
L 523.460707 233.46468
L 528.994592 239.208696
L 534.528476 240.307056
L 540.06236 241.177608
L 545.596245 242.7804
L 551.130129 242.682768
L 556.664013 242.747856
L 562.197898 243.561456
L 567.731782 244.32624
L 573.265666 244.008936
L 578.79955 244.24488
L 584.333435 244.4076
L 589.867319 244.049616
L 595.401203 244.106568
L 600.935088 244.253016
L 606.468972 244.928304
L 612.002856 245.400192
L 617.53674 245.880216
L 623.070625 246.327696
L 628.604509 247.198248
L 634.138393 247.922352
L 639.672278 248.792904
L 645.206162 249.346152
L 650.740046 249.65532
L 656.273931 249.891264
L 661.807815 250.26552
L 667.341699 250.704864
L 672.875583 250.363152
L 678.409468 250.06212
L 683.943352 250.029576
L 689.477236 250.119072
L 695.011121 250.485192
L 700.545005 250.34688
L 706.078889 250.639776
" clip-path="url(#p05ef767207)" style="fill: none; stroke: #ff7f0e; stroke-opacity: 0.5; stroke-linecap: square"/>
</g>
<g id="line2d_51">
<path d="M 429.384674 38.16
L 434.918559 37.541664
L 440.452443 37.59048
L 445.986327 40.242816
L 451.520212 52.284096
L 457.054096 58.394232
L 462.58798 76.88736
L 468.121864 89.359848
L 473.655749 105.03792
L 479.189633 121.51332
L 484.723517 143.203896
L 490.257402 161.103096
L 495.791286 175.49568
L 501.32517 188.22852
L 506.859055 201.880728
L 512.392939 211.936824
L 517.926823 219.47076
L 523.460707 227.631168
L 528.994592 232.870752
L 534.528476 238.26492
L 540.06236 238.395096
L 545.596245 239.314464
L 551.130129 242.544456
L 556.664013 243.415008
L 562.197898 244.830672
L 567.731782 245.26188
L 573.265666 245.538504
L 578.79955 245.54664
L 584.333435 245.652408
L 589.867319 245.693088
L 595.401203 245.628
L 600.935088 246.0348
L 606.468972 246.449736
L 612.002856 246.246336
L 617.53674 246.571776
L 623.070625 247.21452
L 628.604509 247.531824
L 634.138393 247.686408
L 639.672278 247.914216
L 645.206162 249.264792
L 650.740046 250.216704
L 656.273931 250.330608
L 661.807815 251.3232
L 667.341699 252.616824
L 672.875583 253.332792
L 678.409468 253.812816
L 683.943352 253.60128
L 689.477236 253.186344
L 695.011121 252.860904
L 700.545005 252.673776
L 706.078889 252.291384
" clip-path="url(#p05ef767207)" style="fill: none; stroke: #ff7f0e; stroke-opacity: 0.5; stroke-linecap: square"/>
</g>
<g id="line2d_52">
<path d="M 429.384674 38.16
L 434.918559 37.533528
L 440.452443 36.57348
L 445.986327 43.057872
L 451.520212 57.661992
L 457.054096 72.477648
L 462.58798 90.238536
L 468.121864 102.605256
L 473.655749 118.812168
L 479.189633 140.519016
L 484.723517 157.360536
L 490.257402 176.943888
L 495.791286 189.221112
L 501.32517 205.086312
L 506.859055 216.606888
L 512.392939 226.7118
L 517.926823 233.847072
L 523.460707 239.867712
L 528.994592 242.219016
L 534.528476 242.73972
L 540.06236 243.976392
L 545.596245 246.579912
L 551.130129 248.15016
L 556.664013 247.938624
L 562.197898 248.060664
L 567.731782 248.817312
L 573.265666 248.23152
L 578.79955 248.117616
L 584.333435 248.239656
L 589.867319 248.459328
L 595.401203 248.573232
L 600.935088 248.768496
L 606.468972 249.012576
L 612.002856 249.378696
L 617.53674 249.826176
L 623.070625 250.558416
L 628.604509 250.891992
L 634.138393 251.28252
L 639.672278 251.664912
L 645.206162 252.5436
L 650.740046 252.99108
L 656.273931 253.292112
L 661.807815 253.487376
L 667.341699 253.544328
L 672.875583 253.64196
L 678.409468 253.747728
L 683.943352 253.983672
L 689.477236 254.309112
L 695.011121 254.065032
L 700.545005 254.585736
L 706.078889 254.675232
" clip-path="url(#p05ef767207)" style="fill: none; stroke: #ff7f0e; stroke-opacity: 0.5; stroke-linecap: square"/>
</g>
<g id="line2d_53">
<path d="M 429.384674 38.16
L 434.918559 37.606752
L 440.452443 35.702928
L 445.986327 46.938744
L 451.520212 66.51396
L 457.054096 81.03672
L 462.58798 95.242176
L 468.121864 114.199056
L 473.655749 132.643368
L 479.189633 153.674928
L 484.723517 174.852936
L 490.257402 192.345336
L 495.791286 207.527112
L 501.32517 217.819152
L 506.859055 227.875248
L 512.392939 237.036384
L 517.926823 242.650224
L 523.460707 245.839536
L 528.994592 246.80772
L 534.528476 248.459328
L 540.06236 250.078392
L 545.596245 249.988896
L 551.130129 251.420832
L 556.664013 253.853496
L 562.197898 253.023624
L 567.731782 251.738136
L 573.265666 250.38756
L 578.79955 250.46892
L 584.333435 250.729272
L 589.867319 250.070256
L 595.401203 250.395696
L 600.935088 250.338744
L 606.468972 250.22484
L 612.002856 250.216704
L 617.53674 249.923808
L 623.070625 250.379424
L 628.604509 249.948216
L 634.138393 250.167888
L 639.672278 250.810632
L 645.206162 250.883856
L 650.740046 250.704864
L 656.273931 250.338744
L 661.807815 251.168616
L 667.341699 251.258112
L 672.875583 250.802496
L 678.409468 251.07912
L 683.943352 251.616096
L 689.477236 251.331336
L 695.011121 250.900128
L 700.545005 250.883856
L 706.078889 251.005896
" clip-path="url(#p05ef767207)" style="fill: none; stroke: #ff7f0e; stroke-opacity: 0.5; stroke-linecap: square"/>
</g>
<g id="line2d_54">
<path d="M 429.384674 38.16
L 434.918559 37.7532
L 440.452443 37.50912
L 445.986327 44.554896
L 451.520212 58.98816
L 457.054096 76.252752
L 462.58798 96.61716
L 468.121864 110.04156
L 473.655749 129.925944
L 479.189633 147.963456
L 484.723517 168.881112
L 490.257402 184.884624
L 495.791286 206.916912
L 501.32517 218.339856
L 506.859055 229.372272
L 512.392939 238.34628
L 517.926823 241.527456
L 523.460707 244.822536
L 528.994592 245.554776
L 534.528476 247.82472
L 540.06236 247.426056
L 545.596245 247.816584
L 551.130129 249.028848
L 556.664013 248.687136
L 562.197898 248.402376
L 567.731782 249.069528
L 573.265666 250.167888
L 578.79955 250.26552
L 584.333435 250.18416
L 589.867319 250.02144
L 595.401203 250.55028
L 600.935088 250.607232
L 606.468972 251.127936
L 612.002856 251.591688
L 617.53674 252.234432
L 623.070625 252.600552
L 628.604509 253.414152
L 634.138393 254.032488
L 639.672278 254.300976
L 645.206162 254.602008
L 650.740046 254.667096
L 656.273931 254.82168
L 661.807815 254.927448
L 667.341699 254.724048
L 672.875583 254.772864
L 678.409468 254.94372
L 683.943352 254.602008
L 689.477236 254.227752
L 695.011121 254.187072
L 700.545005 254.602008
L 706.078889 254.959992
" clip-path="url(#p05ef767207)" style="fill: none; stroke: #ff7f0e; stroke-opacity: 0.5; stroke-linecap: square"/>
</g>
<g id="line2d_55">
<path d="M 429.384674 38.16
L 434.918559 38.021688
L 440.452443 38.680704
L 445.986327 38.713248
L 451.520212 48.378816
L 457.054096 60.501456
L 462.58798 77.37552
L 468.121864 94.94928
L 473.655749 106.567488
L 479.189633 121.440096
L 484.723517 141.430248
L 490.257402 164.528352
L 495.791286 185.641272
L 501.32517 200.774232
L 506.859055 212.766696
L 512.392939 227.40336
L 517.926823 236.19024
L 523.460707 241.372872
L 528.994592 243.057024
L 534.528476 245.937168
L 540.06236 249.923808
L 545.596245 252.071712
L 551.130129 253.048032
L 556.664013 251.551008
L 562.197898 250.713
L 567.731782 250.355016
L 573.265666 250.696728
L 578.79955 250.810632
L 584.333435 251.014032
L 589.867319 251.144208
L 595.401203 250.851312
L 600.935088 251.298792
L 606.468972 251.168616
L 612.002856 251.754408
L 617.53674 252.079848
L 623.070625 252.161208
L 628.604509 252.332064
L 634.138393 251.705592
L 639.672278 251.884584
L 645.206162 252.1368
L 650.740046 252.05544
L 656.273931 252.185616
L 661.807815 252.486648
L 667.341699 252.812088
L 672.875583 253.088712
L 678.409468 253.617552
L 683.943352 253.121256
L 689.477236 253.300248
L 695.011121 252.9504
L 700.545005 252.592416
L 706.078889 253.161936
" clip-path="url(#p05ef767207)" style="fill: none; stroke: #ff7f0e; stroke-opacity: 0.5; stroke-linecap: square"/>
</g>
<g id="line2d_56">
<path d="M 429.384674 38.16
L 434.918559 37.248768
L 440.452443 36.65484
L 445.986327 41.756112
L 451.520212 56.482272
L 457.054096 66.8394
L 462.58798 88.48116
L 468.121864 106.795296
L 473.655749 119.861712
L 479.189633 144.709056
L 484.723517 162.982512
L 490.257402 183.241152
L 495.791286 197.357112
L 501.32517 213.36876
L 506.859055 227.265048
L 512.392939 230.462496
L 517.926823 238.63104
L 523.460707 243.219744
L 528.994592 246.994848
L 534.528476 247.686408
L 540.06236 250.26552
L 545.596245 249.264792
L 551.130129 249.647184
L 556.664013 247.881672
L 562.197898 250.729272
L 567.731782 251.070984
L 573.265666 251.28252
L 578.79955 251.3232
L 584.333435 251.054712
L 589.867319 250.745544
L 595.401203 250.843176
L 600.935088 250.534008
L 606.468972 250.786224
L 612.002856 251.152344
L 617.53674 251.266248
L 623.070625 251.103528
L 628.604509 251.599824
L 634.138393 252.62496
L 639.672278 252.478512
L 645.206162 252.730728
L 650.740046 253.210752
L 656.273931 253.902312
L 661.807815 253.68264
L 667.341699 254.00808
L 672.875583 253.625688
L 678.409468 253.462968
L 683.943352 253.31652
L 689.477236 253.389744
L 695.011121 253.72332
L 700.545005 254.056896
L 706.078889 254.317248
" clip-path="url(#p05ef767207)" style="fill: none; stroke: #ff7f0e; stroke-opacity: 0.5; stroke-linecap: square"/>
</g>
<g id="line2d_57">
<path d="M 429.384674 38.16
L 434.918559 37.964736
L 440.452443 37.948464
L 445.986327 42.016464
L 451.520212 56.132424
L 457.054096 65.749176
L 462.58798 80.38584
L 468.121864 96.706656
L 473.655749 118.17756
L 479.189633 139.323024
L 484.723517 166.399632
L 490.257402 182.679768
L 495.791286 197.560512
L 501.32517 213.352488
L 506.859055 222.830928
L 512.392939 234.497952
L 517.926823 242.235288
L 523.460707 247.588776
L 528.994592 250.761816
L 534.528476 251.005896
L 540.06236 249.500736
L 545.596245 248.524416
L 551.130129 249.517008
L 556.664013 249.435648
L 562.197898 250.208568
L 567.731782 252.70632
L 573.265666 254.024352
L 578.79955 253.999944
L 584.333435 254.219616
L 589.867319 253.755864
L 595.401203 253.422288
L 600.935088 253.707048
L 606.468972 253.422288
L 612.002856 253.707048
L 617.53674 253.910448
L 623.070625 254.968128
L 628.604509 255.724776
L 634.138393 255.244752
L 639.672278 255.342384
L 645.206162 255.342384
L 650.740046 255.374928
L 656.273931 255.75732
L 661.807815 255.301704
L 667.341699 255.496968
L 672.875583 255.822408
L 678.409468 255.806136
L 683.943352 255.55392
L 689.477236 255.3912
L 695.011121 254.992536
L 700.545005 255.155256
L 706.078889 255.179664
" clip-path="url(#p05ef767207)" style="fill: none; stroke: #ff7f0e; stroke-opacity: 0.5; stroke-linecap: square"/>
</g>
<g id="line2d_58">
<path d="M 429.384674 38.16
L 434.918559 37.378944
L 440.452443 39.54312
L 445.986327 42.122232
L 451.520212 58.524408
L 457.054096 70.289064
L 462.58798 93.03732
L 468.121864 106.795296
L 473.655749 127.98144
L 479.189633 146.677968
L 484.723517 162.51876
L 490.257402 178.440912
L 495.791286 198.691416
L 501.32517 215.191224
L 506.859055 227.143008
L 512.392939 236.23092
L 517.926823 245.880216
L 523.460707 251.16048
L 528.994592 253.918584
L 534.528476 257.539104
L 540.06236 260.289072
L 545.596245 262.615968
L 551.130129 260.525016
L 556.664013 260.988768
L 562.197898 258.368976
L 567.731782 259.263936
L 573.265666 259.280208
L 578.79955 259.084944
L 584.333435 259.955496
L 589.867319 260.305344
L 595.401203 260.451792
L 600.935088 260.59824
L 606.468972 260.687736
L 612.002856 260.907408
L 617.53674 260.76096
L 623.070625 261.12708
L 628.604509 261.509472
L 634.138393 261.509472
L 639.672278 261.273528
L 645.206162 260.80164
L 650.740046 260.72028
L 656.273931 260.712144
L 661.807815 260.809776
L 667.341699 260.614512
L 672.875583 260.35416
L 678.409468 260.158896
L 683.943352 260.020584
L 689.477236 260.175168
L 695.011121 260.35416
L 700.545005 260.80164
L 706.078889 261.151488
" clip-path="url(#p05ef767207)" style="fill: none; stroke: #ff7f0e; stroke-opacity: 0.5; stroke-linecap: square"/>
</g>
<g id="line2d_59">
<path d="M 429.384674 38.16
L 434.918559 38.005416
L 440.452443 36.882648
L 445.986327 47.256048
L 451.520212 62.28324
L 457.054096 78.335568
L 462.58798 98.44776
L 468.121864 113.084424
L 473.655749 131.650776
L 479.189633 158.69484
L 484.723517 177.6924
L 490.257402 193.39488
L 495.791286 213.303672
L 501.32517 226.87452
L 506.859055 238.858848
L 512.392939 244.008936
L 517.926823 248.589504
L 523.460707 252.332064
L 528.994592 253.161936
L 534.528476 255.163392
L 540.06236 255.5946
L 545.596245 255.627144
L 551.130129 256.196664
L 556.664013 252.917856
L 562.197898 253.934856
L 567.731782 254.756592
L 573.265666 257.571648
L 578.79955 257.758776
L 584.333435 257.661144
L 589.867319 257.848272
L 595.401203 257.612328
L 600.935088 257.905224
L 606.468972 258.48288
L 612.002856 258.556104
L 617.53674 258.328296
L 623.070625 258.613056
L 628.604509 258.987312
L 634.138393 258.76764
L 639.672278 259.508016
L 645.206162 260.004312
L 650.740046 260.508744
L 656.273931 261.110808
L 661.807815 260.988768
L 667.341699 261.200304
L 672.875583 261.078264
L 678.409468 262.26612
L 683.943352 262.42884
L 689.477236 262.371888
L 695.011121 263.218032
L 700.545005 263.348208
L 706.078889 263.24244
" clip-path="url(#p05ef767207)" style="fill: none; stroke: #ff7f0e; stroke-opacity: 0.5; stroke-linecap: square"/>
</g>
<g id="line2d_60">
<path d="M 429.384674 38.16
L 434.918559 37.899648
L 440.452443 37.810152
L 445.986327 38.290176
L 451.520212 48.907656
L 457.054096 61.689312
L 462.58798 77.928768
L 468.121864 90.71856
L 473.655749 108.560808
L 479.189633 130.755816
L 484.723517 156.270312
L 490.257402 174.405456
L 495.791286 188.301744
L 501.32517 205.615152
L 506.859055 220.97592
L 512.392939 232.93584
L 517.926823 242.86176
L 523.460707 248.052528
L 528.994592 252.250704
L 534.528476 255.773592
L 540.06236 255.619008
L 545.596245 256.85568
L 551.130129 259.206984
L 556.664013 260.500608
L 562.197898 260.59824
L 567.731782 262.518336
L 573.265666 263.071584
L 578.79955 263.665512
L 584.333435 263.559744
L 589.867319 263.763144
L 595.401203 263.698056
L 600.935088 263.388888
L 606.468972 263.1204
L 612.002856 263.356344
L 617.53674 263.307528
L 623.070625 263.990952
L 628.604509 263.738736
L 634.138393 263.535336
L 639.672278 263.917728
L 645.206162 263.755008
L 650.740046 263.885184
L 656.273931 264.186216
L 661.807815 263.85264
L 667.341699 264.235032
L 672.875583 264.42216
L 678.409468 263.746872
L 683.943352 263.291256
L 689.477236 263.934
L 695.011121 263.478384
L 700.545005 263.543472
L 706.078889 263.958408
" clip-path="url(#p05ef767207)" style="fill: none; stroke: #ff7f0e; stroke-opacity: 0.5; stroke-linecap: square"/>
</g>
<g id="line2d_61">
<path d="M 429.384674 38.16
L 434.918559 37.736928
L 440.452443 37.077912
L 445.986327 37.924056
L 451.520212 46.426176
L 457.054096 58.996296
L 462.58798 76.838544
L 468.121864 99.603072
L 473.655749 104.517216
L 479.189633 128.087208
L 484.723517 155.68452
L 490.257402 174.942432
L 495.791286 194.769864
L 501.32517 209.227536
L 506.859055 222.139368
L 512.392939 236.889936
L 517.926823 248.117616
L 523.460707 253.60128
L 528.994592 255.659688
L 534.528476 258.93036
L 540.06236 259.190712
L 545.596245 259.345296
L 551.130129 261.118944
L 556.664013 262.965816
L 562.197898 263.40516
L 567.731782 262.803096
L 573.265666 262.803096
L 578.79955 263.022768
L 584.333435 262.404432
L 589.867319 263.087856
L 595.401203 263.340072
L 600.935088 263.462112
L 606.468972 263.7306
L 612.002856 263.909592
L 617.53674 263.901456
L 623.070625 264.194352
L 628.604509 264.202488
L 634.138393 265.040496
L 639.672278 265.772736
L 645.206162 266.708376
L 650.740046 267.253488
L 656.273931 267.790464
L 661.807815 268.2054
L 667.341699 268.661016
L 672.875583 269.002728
L 678.409468 268.799328
L 683.943352 268.799328
L 689.477236 269.084088
L 695.011121 269.311896
L 700.545005 268.970184
L 706.078889 268.498296
" clip-path="url(#p05ef767207)" style="fill: none; stroke: #ff7f0e; stroke-opacity: 0.5; stroke-linecap: square"/>
</g>
<g id="line2d_62">
<path d="M 429.384674 38.16
L 434.918559 37.696248
L 440.452443 36.158544
L 445.986327 38.40408
L 451.520212 47.825568
L 457.054096 65.879352
L 462.58798 78.522696
L 468.121864 98.69184
L 473.655749 114.605856
L 479.189633 133.164072
L 484.723517 154.960416
L 490.257402 174.250872
L 495.791286 195.437016
L 501.32517 211.57884
L 506.859055 224.807976
L 512.392939 235.262736
L 517.926823 245.13984
L 523.460707 254.081304
L 528.994592 256.562784
L 534.528476 258.312024
L 540.06236 259.890408
L 545.596245 260.207712
L 551.130129 261.45252
L 556.664013 264.088584
L 562.197898 265.016088
L 567.731782 265.016088
L 573.265666 265.422888
L 578.79955 265.390344
L 584.333435 265.658832
L 589.867319 266.195808
L 595.401203 266.13072
L 600.935088 266.586336
L 606.468972 267.155856
L 612.002856 267.359256
L 617.53674 267.75792
L 623.070625 268.197264
L 628.604509 268.677288
L 634.138393 268.69356
L 639.672278 269.767512
L 645.206162 270.337032
L 650.740046 270.72756
L 656.273931 271.264536
L 661.807815 271.207584
L 667.341699 271.484208
L 672.875583 271.028592
L 678.409468 270.97164
L 683.943352 270.101088
L 689.477236 269.531568
L 695.011121 269.46648
L 700.545005 269.376984
L 706.078889 269.865144
" clip-path="url(#p05ef767207)" style="fill: none; stroke: #ff7f0e; stroke-opacity: 0.5; stroke-linecap: square"/>
</g>
<g id="line2d_63">
<path d="M 429.384674 38.16
L 434.918559 37.639296
L 440.452443 36.679248
L 445.986327 38.534256
L 451.520212 47.532672
L 457.054096 62.470368
L 462.58798 70.891128
L 468.121864 94.98996
L 473.655749 111.782664
L 479.189633 124.07616
L 484.723517 147.890232
L 490.257402 171.191736
L 495.791286 189.20484
L 501.32517 201.563424
L 506.859055 215.36208
L 512.392939 229.201416
L 517.926823 244.24488
L 523.460707 253.552464
L 528.994592 258.572376
L 534.528476 263.828232
L 540.06236 265.935456
L 545.596245 267.530112
L 551.130129 266.635152
L 556.664013 267.692832
L 562.197898 268.04268
L 567.731782 270.60552
L 573.265666 269.678016
L 578.79955 269.54784
L 584.333435 269.857008
L 589.867319 269.99532
L 595.401203 269.678016
L 600.935088 269.66988
L 606.468972 269.58852
L 612.002856 269.930232
L 617.53674 270.149904
L 623.070625 269.970912
L 628.604509 270.68688
L 634.138393 271.101816
L 639.672278 271.321488
L 645.206162 271.915416
L 650.740046 272.468664
L 656.273931 273.339216
L 661.807815 274.02264
L 667.341699 274.209768
L 672.875583 274.47012
L 678.409468 274.234176
L 683.943352 274.3074
L 689.477236 274.26672
L 695.011121 274.706064
L 700.545005 274.42944
L 706.078889 275.047776
" clip-path="url(#p05ef767207)" style="fill: none; stroke: #ff7f0e; stroke-opacity: 0.5; stroke-linecap: square"/>
</g>
<g id="line2d_64">
<path d="M 429.384674 38.16
L 434.918559 37.663704
L 440.452443 37.688112
L 445.986327 39.185136
L 451.520212 51.673896
L 457.054096 63.145656
L 462.58798 77.13144
L 468.121864 97.300584
L 473.655749 115.769304
L 479.189633 133.888176
L 484.723517 154.78956
L 490.257402 177.521544
L 495.791286 189.546552
L 501.32517 211.399848
L 506.859055 227.981016
L 512.392939 242.162064
L 517.926823 250.843176
L 523.460707 259.076808
L 528.994592 261.9
L 534.528476 265.19508
L 540.06236 266.635152
L 545.596245 267.668424
L 551.130129 269.075952
L 556.664013 270.214992
L 562.197898 270.092952
L 567.731782 271.345896
L 573.265666 271.061136
L 578.79955 271.370304
L 584.333435 271.565568
L 589.867319 271.061136
L 595.401203 271.573704
L 600.935088 272.11068
L 606.468972 272.061864
L 612.002856 272.51748
L 617.53674 273.078864
L 623.070625 273.078864
L 628.604509 273.648384
L 634.138393 273.957552
L 639.672278 274.87692
L 645.206162 274.819968
L 650.740046 275.592888
L 656.273931 276.040368
L 661.807815 276.333264
L 667.341699 276.528528
L 672.875583 276.593616
L 678.409468 276.634296
L 683.943352 276.3414
L 689.477236 276.292584
L 695.011121 276.235632
L 700.545005 276.520392
L 706.078889 276.487848
" clip-path="url(#p05ef767207)" style="fill: none; stroke: #ff7f0e; stroke-opacity: 0.5; stroke-linecap: square"/>
</g>
<g id="line2d_65">
<path d="M 429.384674 38.16
L 434.918559 37.71252
L 440.452443 37.370808
L 445.986327 39.9906
L 451.520212 54.619128
L 457.054096 73.738728
L 462.58798 88.448616
L 468.121864 107.421768
L 473.655749 122.725584
L 479.189633 142.439112
L 484.723517 167.514264
L 490.257402 188.301744
L 495.791286 212.620248
L 501.32517 217.152
L 506.859055 231.7968
L 512.392939 244.0008
L 517.926823 253.764
L 523.460707 262.7136
L 528.994592 271.6632
L 534.528476 276.138
L 540.06236 279.7992
L 545.596245 281.4264
L 551.130129 283.0536
L 556.664013 284.274
L 562.197898 281.75184
L 567.731782 282.174912
L 573.265666 283.6638
L 578.79955 284.0706
L 584.333435 284.135688
L 589.867319 284.062464
L 595.401203 284.794704
L 600.935088 284.493672
L 606.468972 284.444856
L 612.002856 284.493672
L 617.53674 284.705208
L 623.070625 284.8842
L 628.604509 284.900472
L 634.138393 285.136416
L 639.672278 286.06392
L 645.206162 286.486992
L 650.740046 286.861248
L 656.273931 286.503264
L 661.807815 286.63344
L 667.341699 287.16228
L 672.875583 287.023968
L 678.409468 287.512128
L 683.943352 288.333864
L 689.477236 288.049104
L 695.011121 287.682984
L 700.545005 287.40636
L 706.078889 287.495856
" clip-path="url(#p05ef767207)" style="fill: none; stroke: #ff7f0e; stroke-opacity: 0.5; stroke-linecap: square"/>
</g>
<g id="line2d_66">
<path d="M 415.4400 38.1600
L 720.0000 38.1600
" clip-path="url(#p05ef767207)" style="fill: none; stroke-dasharray: 5.55,2.4; stroke-dashoffset: 0; stroke: #808080; stroke-opacity: 0.5; stroke-width: 1.5"/>
</g>
<g id="patch_8">
<path d="M 415.8000 300.6000
L 415.8000 23.4000
" style="fill: none; stroke: #000000; stroke-width: 0.8; stroke-linejoin: miter; stroke-linecap: square"/>
</g>
<g id="patch_9">
<path d="M 720.3600 300.6000
L 720.3600 23.4000
" style="fill: none; stroke: #000000; stroke-width: 0.8; stroke-linejoin: miter; stroke-linecap: square"/>
</g>
<g id="patch_10">
<path d="M 415.8000 300.6000
L 720.3600 300.6000
" style="fill: none; stroke: #000000; stroke-width: 0.8; stroke-linejoin: miter; stroke-linecap: square"/>
</g>
<g id="patch_11">
<path d="M 415.8000 23.4000
L 720.3600 23.4000
" style="fill: none; stroke: #000000; stroke-width: 0.8; stroke-linejoin: miter; stroke-linecap: square"/>
</g>
<g id="text_27">
<g transform="translate(513.8758 18.1200)">
<text>
<tspan x="0" y="-0.875" style="font-size: 12px; font-family: 'DejaVu Sans', sans-serif">l</tspan>
<tspan x="3.333984" y="-0.875" style="font-size: 12px; font-family: 'DejaVu Sans', sans-serif">o</tspan>
<tspan x="10.675781" y="-0.875" style="font-size: 12px; font-family: 'DejaVu Sans', sans-serif">g</tspan>
<tspan x="30.548476" y="-0.875" style="font-size: 12px; font-family: 'DejaVu Sans', sans-serif"> </tspan>
<tspan x="34.36293" y="-0.875" style="font-size: 12px; font-family: 'DejaVu Sans', sans-serif">(</tspan>
<tspan x="39.04457" y="-0.875" style="font-size: 12px; font-family: 'DejaVu Sans', sans-serif">n</tspan>
<tspan x="46.650039" y="-0.875" style="font-size: 12px; font-family: 'DejaVu Sans', sans-serif">a</tspan>
<tspan x="54.003555" y="-0.875" style="font-size: 12px; font-family: 'DejaVu Sans', sans-serif">t</tspan>
<tspan x="58.708633" y="-0.875" style="font-size: 12px; font-family: 'DejaVu Sans', sans-serif">u</tspan>
<tspan x="66.314101" y="-0.875" style="font-size: 12px; font-family: 'DejaVu Sans', sans-serif">r</tspan>
<tspan x="71.247695" y="-0.875" style="font-size: 12px; font-family: 'DejaVu Sans', sans-serif">e</tspan>
<tspan x="78.630508" y="-0.875" style="font-size: 12px; font-family: 'DejaVu Sans', sans-serif"> </tspan>
<tspan x="82.444961" y="-0.875" style="font-size: 12px; font-family: 'DejaVu Sans', sans-serif">=</tspan>
<tspan x="92.499648" y="-0.875" style="font-size: 12px; font-family: 'DejaVu Sans', sans-serif"> </tspan>
<tspan x="96.314101" y="-0.875" style="font-size: 12px; font-family: 'DejaVu Sans', sans-serif">g</tspan>
<tspan x="103.931289" y="-0.875" style="font-size: 12px; font-family: 'DejaVu Sans', sans-serif">)</tspan>
<tspan x="20.24125" y="-0.875" style="font-style: oblique; font-size: 12px; font-family: 'DejaVu Sans', sans-serif">L</tspan>
<tspan x="26.926797" y="1.09375" style="font-style: oblique; font-size: 8.4px; font-family: 'DejaVu Sans', sans-serif">t</tspan>
</text>
</g>
</g>
</g>
</g>
<defs>
<clipPath id="p61c356c6a1">
<rect x="50.3136" y="23.04" width="304.363636" height="277.2"/>
</clipPath>
<clipPath id="p05ef767207">
<rect x="415.549964" y="23.04" width="304.363636" height="277.2"/>
</clipPath>
</defs>
</svg>
</body></html>
